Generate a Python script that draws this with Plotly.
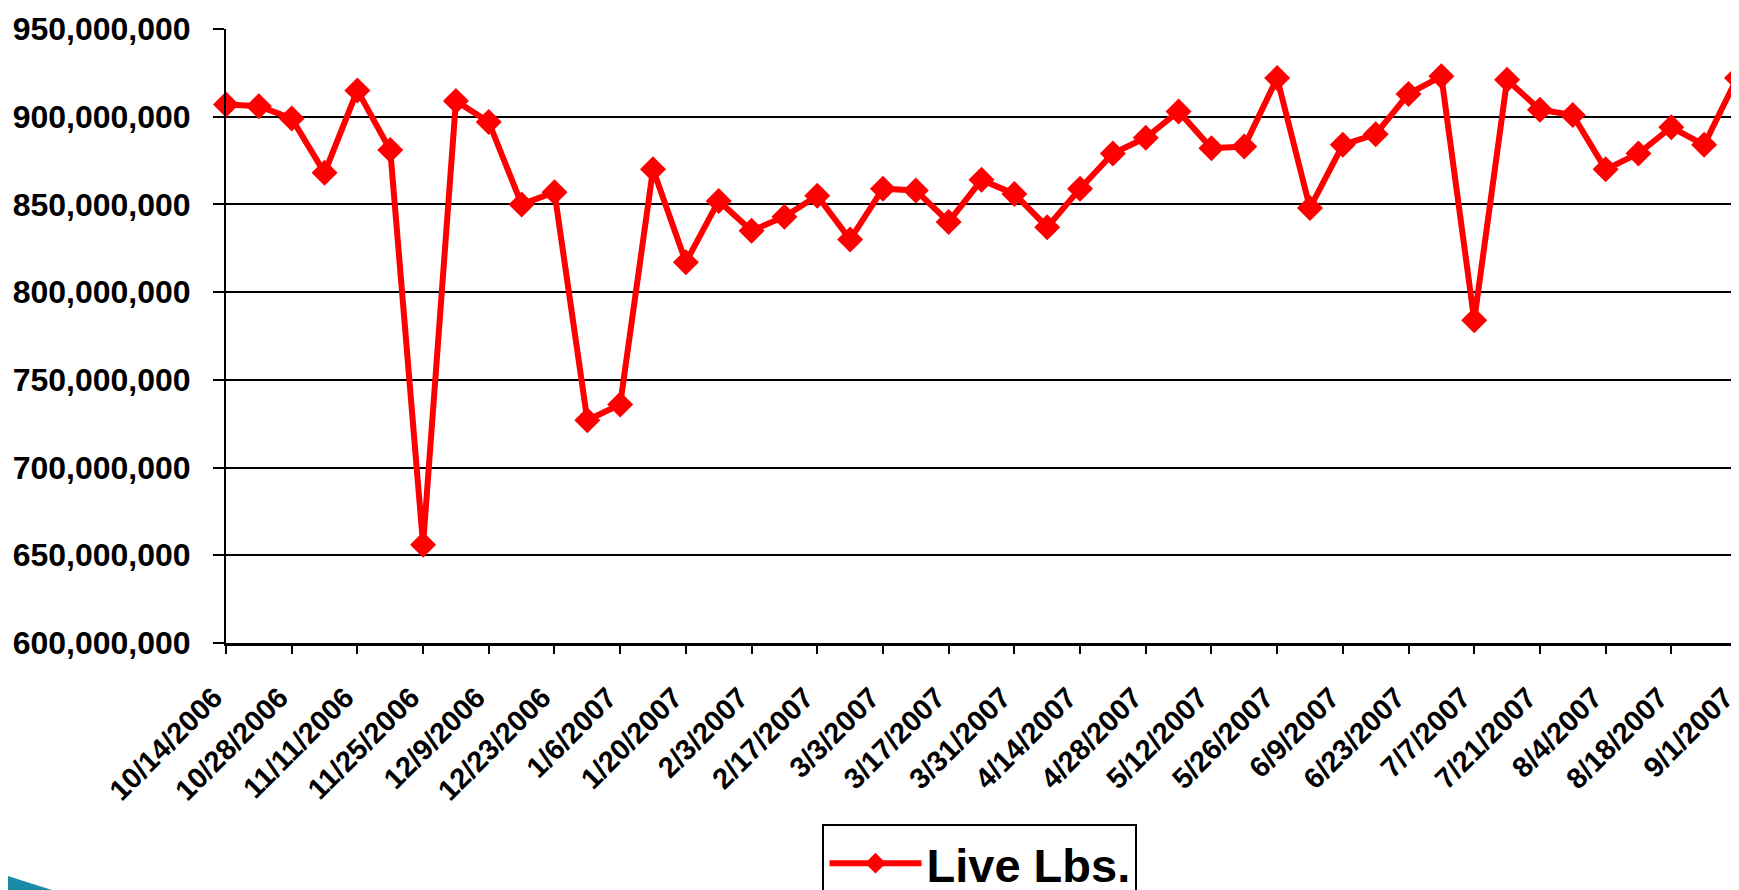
import plotly.graph_objects as go

dates = [
    "10/14/2006", "10/21/2006", "10/28/2006", "11/4/2006", "11/11/2006", "11/18/2006",
    "11/25/2006", "12/2/2006", "12/9/2006", "12/16/2006", "12/23/2006", "12/30/2006",
    "1/6/2007", "1/13/2007", "1/20/2007", "1/27/2007", "2/3/2007", "2/10/2007",
    "2/17/2007", "2/24/2007", "3/3/2007", "3/10/2007", "3/17/2007", "3/24/2007",
    "3/31/2007", "4/7/2007", "4/14/2007", "4/21/2007", "4/28/2007", "5/5/2007",
    "5/12/2007", "5/19/2007", "5/26/2007", "6/2/2007", "6/9/2007", "6/16/2007",
    "6/23/2007", "6/30/2007", "7/7/2007", "7/14/2007", "7/21/2007", "7/28/2007",
    "8/4/2007", "8/11/2007", "8/18/2007", "8/25/2007", "9/1/2007",
]

live_lbs = [
    907e6, 906e6, 899e6, 868e6, 915e6, 881e6, 656e6, 909e6, 897e6, 850e6,
    857e6, 727e6, 736e6, 870e6, 817e6, 852e6, 835e6, 843e6, 855e6, 830e6,
    859e6, 858e6, 840e6, 864e6, 856e6, 837e6, 859e6, 879e6, 888e6, 903e6,
    882e6, 883e6, 922e6, 848e6, 884e6, 890e6, 913e6, 923e6, 784e6, 921e6,
    904e6, 901e6, 870e6, 879e6, 894e6, 884e6, 922e6,
]

tick_labels = dates[::2]
y_ticks = [600e6, 650e6, 700e6, 750e6, 800e6, 850e6, 900e6, 950e6]

RED = "#FF0000"
FONT = "Liberation Sans, Arial, sans-serif"

fig = go.Figure()
fig.add_trace(go.Scatter(
    x=dates, y=live_lbs, mode="lines+markers", name="Live Lbs.",
    line=dict(color=RED, width=6),
    marker=dict(symbol="diamond", size=20, color=RED),
    cliponaxis=False,
))

# decorative slide corner graphic (bottom-left)
fig.add_shape(
    type="path", xref="paper", yref="paper",
    path="M -0.1443,-0.3795 Q -0.125,-0.395 -0.0985,-0.415 L -0.1443,-0.415 Z",
    fillcolor="#1b8aa6", line=dict(width=0), layer="above",
)

fig.update_layout(
    width=1739, height=890,
    margin=dict(l=218, r=10, t=21, b=255, autoexpand=False),
    paper_bgcolor="white", plot_bgcolor="white",
    font=dict(family=FONT, color="black", weight="bold"),
    showlegend=True,
    legend=dict(
        x=0.499, xanchor="center", y=-0.295, yanchor="top",
        bgcolor="white", bordercolor="black", borderwidth=2,
        font=dict(size=47, family=FONT, color="black", weight="bold"),
        itemwidth=92,
    ),
    xaxis=dict(
        type="category", categoryorder="array", categoryarray=dates,
        range=[0, len(dates) - 1],
        tickmode="array", tickvals=tick_labels, ticktext=tick_labels,
        tickangle=-45, tickfont=dict(size=29, family=FONT, weight="bold"),
        ticks="outside", ticklen=8, tickwidth=2, tickcolor="black",
        ticklabelstandoff=15, ticklabelshift=-12,
        showline=True, linecolor="black", linewidth=3, mirror=False,
        showgrid=False, zeroline=False, automargin=False,
    ),
    yaxis=dict(
        range=[600e6, 950e6],
        tickmode="array", tickvals=y_ticks, tickformat=",d",
        tickfont=dict(size=32, family=FONT, weight="bold"),
        ticks="outside", ticklen=11, tickwidth=2, tickcolor="black",
        ticklabelstandoff=16,
        showline=True, linecolor="black", linewidth=2, mirror=True,
        showgrid=True, gridcolor="black", gridwidth=2,
        zeroline=False, automargin=False,
    ),
)

fig.write_html("out.html")
